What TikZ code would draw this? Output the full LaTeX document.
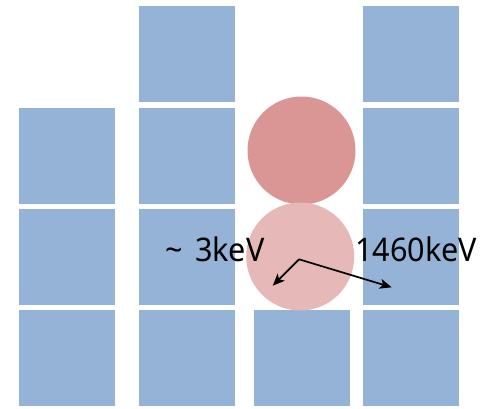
\documentclass[tikz,border=0pt]{standalone}
\usepackage{fontspec}
\newfontfamily\lblfont[FakeStretch=0.94]{Noto Sans}
\usetikzlibrary{arrows.meta}
\definecolor{cellblue}{HTML}{95B3D7}
\definecolor{atomdark}{HTML}{D99694}
\definecolor{atomlight}{HTML}{E6B9B8}
\tikzset{
  cell/.style={fill=cellblue, draw=none, minimum size=96pt, inner sep=0pt, outer sep=0pt},
  atom/.style={circle, draw=none, minimum size=108pt, inner sep=0pt},
  recoil/.style={line width=1.7pt, -{Stealth[length=12pt,width=10pt,inset=3pt]}},
  energy/.style={font=\lblfont\fontsize{32.5}{32.5}\selectfont, inner sep=0pt, anchor=base west}
}
\begin{document}
\begin{tikzpicture}[x=1pt,y=-1pt]
\useasboundingbox (0,0) rectangle (481,408);
% lattice cells (centres)
\node[cell] (c11) at (67,156) {};
\node[cell] (c12) at (67,257) {};
\node[cell] (c13) at (67,358) {};
\node[cell] (c20) at (187,54) {};
\node[cell] (c21) at (187,156) {};
\node[cell] (c22) at (187,257) {};
\node[cell] (c23) at (187,358) {};
\node[cell] (c33) at (302,358) {};
\node[cell] (c40) at (411,54) {};
\node[cell] (c41) at (411,156) {};
\node[cell] (c42) at (411,257) {};
\node[cell] (c43) at (411,358) {};
% atoms
\node[atom, fill=atomdark] (upper) at (301.5,150.5) {};
\node[atom, fill=atomlight] (lower) at (300.2,256.5) {};
% recoil directions
\coordinate (src) at (299,259.3);
\coordinate (lowE) at (272.7,285.7);
\coordinate (highE) at (391.7,287.3);
\draw[recoil] (src) -- (lowE);
\draw[recoil] (src) -- (highE);
% energies
\node[energy] (tl) at (165,261) {\char`\~\hspace{12.5pt}3keV};
\node[energy] (tr) at (355,261) {1460keV};
\end{tikzpicture}
\end{document}
